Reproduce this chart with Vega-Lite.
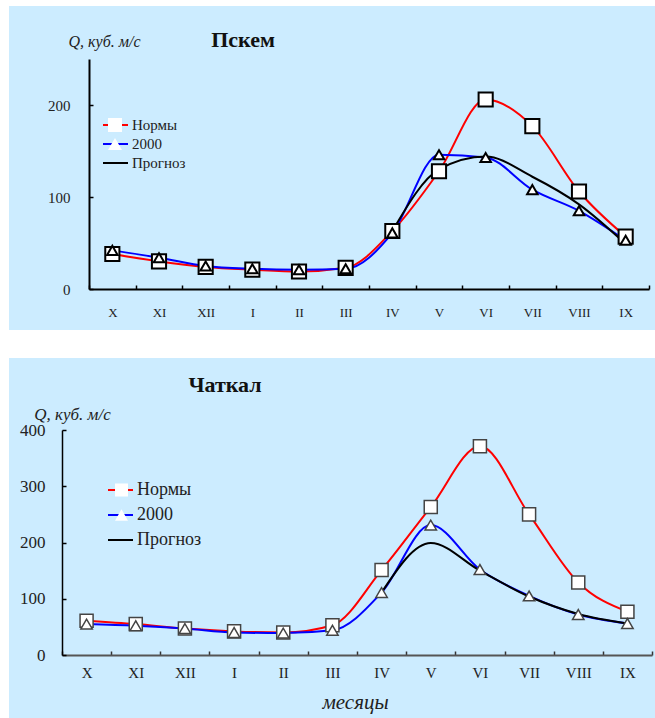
{
  "$schema": "https://vega.github.io/schema/vega-lite/v6.json",
  "background": "white",
  "padding": {"left": 9, "top": 6, "right": 0, "bottom": 0},
  "spacing": 28,
  "resolve": {"scale": {"color": "independent", "shape": "independent"}, "legend": {"color": "independent", "shape": "independent"}},
  "config": {
    "view": {"fill": "#CCECFF", "stroke": null},
    "font": "Liberation Serif",
    "axis": {"grid": false, "labelFont": "Liberation Serif", "titleFont": "Liberation Serif", "labelColor": "#222", "titleColor": "#222", "labelAngle": 0},
    "legend": {"labelFont": "Liberation Serif", "titleFont": "Liberation Serif", "labelColor": "#222"}
  },
  "datasets": {
    "pskem": [
      {"series": "Нормы", "month": "X", "q": 38},
      {"series": "Нормы", "month": "XI", "q": 30},
      {"series": "Нормы", "month": "XII", "q": 24},
      {"series": "Нормы", "month": "I", "q": 21},
      {"series": "Нормы", "month": "II", "q": 19},
      {"series": "Нормы", "month": "III", "q": 23},
      {"series": "Нормы", "month": "IV", "q": 63},
      {"series": "Нормы", "month": "V", "q": 128},
      {"series": "Нормы", "month": "VI", "q": 206},
      {"series": "Нормы", "month": "VII", "q": 177},
      {"series": "Нормы", "month": "VIII", "q": 106},
      {"series": "Нормы", "month": "IX", "q": 57},
      {"series": "2000", "month": "X", "q": 42},
      {"series": "2000", "month": "XI", "q": 34},
      {"series": "2000", "month": "XII", "q": 25},
      {"series": "2000", "month": "I", "q": 22},
      {"series": "2000", "month": "II", "q": 21},
      {"series": "2000", "month": "III", "q": 22},
      {"series": "2000", "month": "IV", "q": 61},
      {"series": "2000", "month": "V", "q": 146},
      {"series": "2000", "month": "VI", "q": 143},
      {"series": "2000", "month": "VII", "q": 108},
      {"series": "2000", "month": "VIII", "q": 85},
      {"series": "2000", "month": "IX", "q": 53},
      {"series": "Прогноз", "month": "IV", "q": 63},
      {"series": "Прогноз", "month": "V", "q": 130},
      {"series": "Прогноз", "month": "VI", "q": 144},
      {"series": "Прогноз", "month": "VII", "q": 122},
      {"series": "Прогноз", "month": "VIII", "q": 92},
      {"series": "Прогноз", "month": "IX", "q": 49}
    ],
    "chatkal": [
      {"series": "Нормы", "month": "X", "q": 61},
      {"series": "Нормы", "month": "XI", "q": 55},
      {"series": "Нормы", "month": "XII", "q": 47},
      {"series": "Нормы", "month": "I", "q": 42},
      {"series": "Нормы", "month": "II", "q": 40},
      {"series": "Нормы", "month": "III", "q": 53},
      {"series": "Нормы", "month": "IV", "q": 151},
      {"series": "Нормы", "month": "V", "q": 263},
      {"series": "Нормы", "month": "VI", "q": 371},
      {"series": "Нормы", "month": "VII", "q": 250},
      {"series": "Нормы", "month": "VIII", "q": 129},
      {"series": "Нормы", "month": "IX", "q": 77},
      {"series": "2000", "month": "X", "q": 55},
      {"series": "2000", "month": "XI", "q": 52},
      {"series": "2000", "month": "XII", "q": 47},
      {"series": "2000", "month": "I", "q": 40},
      {"series": "2000", "month": "II", "q": 39},
      {"series": "2000", "month": "III", "q": 44},
      {"series": "2000", "month": "IV", "q": 111},
      {"series": "2000", "month": "V", "q": 231},
      {"series": "2000", "month": "VI", "q": 152},
      {"series": "2000", "month": "VII", "q": 105},
      {"series": "2000", "month": "VIII", "q": 72},
      {"series": "2000", "month": "IX", "q": 56},
      {"series": "Прогноз", "month": "IV", "q": 111},
      {"series": "Прогноз", "month": "V", "q": 199},
      {"series": "Прогноз", "month": "VI", "q": 150},
      {"series": "Прогноз", "month": "VII", "q": 104},
      {"series": "Прогноз", "month": "VIII", "q": 73},
      {"series": "Прогноз", "month": "IX", "q": 56}
    ]
  },
  "vconcat": [
    {
      "width": 646,
      "height": 324,
      "data": {"name": "pskem"},
      "title": {"text": "Пскем", "anchor": "start", "frame": "group", "dx": 234, "offset": -56, "baseline": "middle", "align": "center", "fontSize": 22, "font": "Liberation Serif", "fontWeight": "bold", "color": "#111"},
      "layer": [
        {
          "mark": {"type": "line", "interpolate": "monotone", "strokeWidth": 2},
          "encoding": {
            "x": {"field": "month", "type": "ordinal", "sort": ["X","XI","XII","I","II","III","IV","V","VI","VII","VIII","IX"],
              "scale": {"type": "band", "range": [80, 640], "paddingInner": 0, "paddingOuter": 0},
              "axis": {"orient": "bottom", "offset": -41, "tickBand": "extent", "tickSize": -4, "tickWidth": 1.5, "tickColor": "#000", "domainColor": "#000", "domainWidth": 2, "labelFontSize": 13, "labelPadding": 21, "title": null}},
            "y": {"field": "q", "type": "quantitative",
              "scale": {"domain": [0, 250], "range": [283, 53], "nice": false, "zero": true},
              "axis": {"orient": "left", "offset": -80, "values": [0, 100, 200], "tickSize": -4, "tickWidth": 1.5, "tickColor": "#000", "domainColor": "#000", "domainWidth": 2, "labelFontSize": 15, "labelPadding": 23,
                "title": "Q, куб. м/с", "titleAngle": 0, "titleX": 15, "titleY": 35, "titleAlign": "center", "titleBaseline": "middle", "titleFontStyle": "italic", "titleFontWeight": "normal", "titleFontSize": 16}},
            "color": {"field": "series", "type": "nominal",
              "scale": {"domain": ["Нормы","2000","Прогноз"], "range": ["#FF0000","#0000FF","#000000"]},
              "legend": {"orient": "none", "legendX": 93, "legendY": 109.5, "title": null, "symbolType": "stroke", "symbolSize": 625, "symbolStrokeWidth": 2, "labelFontSize": 15, "labelFont": "Liberation Serif", "labelColor": "#222", "labelOffset": 3, "clipHeight": 19, "rowPadding": 0, "padding": 0}}
          }
        },
        {
          "transform": [{"filter": "datum.series == 'Нормы'"}],
          "mark": {"type": "point", "filled": false, "fill": "white", "fillOpacity": 1, "stroke": "black", "strokeWidth": 2, "opacity": 1, "size": 200},
          "encoding": {
            "x": {"field": "month", "type": "ordinal", "sort": ["X","XI","XII","I","II","III","IV","V","VI","VII","VIII","IX"]},
            "y": {"field": "q", "type": "quantitative"},
            "shape": {"field": "series", "type": "nominal",
              "scale": {"domain": ["Нормы","2000"], "range": ["square","triangle-up"]},
              "legend": {"orient": "none", "legendX": 98, "legendY": 109.5, "title": null, "symbolSize": 196, "symbolFillColor": "white", "symbolStrokeColor": "black", "symbolStrokeWidth": 2, "symbolOpacity": 1, "labelExpr": "''", "labelFontSize": 15, "labelOffset": 3, "clipHeight": 19, "rowPadding": 0, "padding": 0,
                "encode": {"symbols": {"stroke": {"value": "black"}, "strokeWidth": {"value": 2}, "fill": {"value": "white"}, "fillOpacity": {"value": 1}, "strokeOpacity": {"value": 1}}}}}
          }
        },
        {
          "transform": [{"filter": "datum.series == '2000'"}],
          "mark": {"type": "point", "filled": false, "fill": "white", "fillOpacity": 1, "stroke": "black", "strokeWidth": 2, "opacity": 1, "size": 110},
          "encoding": {
            "x": {"field": "month", "type": "ordinal", "sort": ["X","XI","XII","I","II","III","IV","V","VI","VII","VIII","IX"]},
            "y": {"field": "q", "type": "quantitative"},
            "shape": {"field": "series", "type": "nominal"}
          }
        }
      ]
    },
    {
      "width": 646,
      "height": 360,
      "data": {"name": "chatkal"},
      "title": {"text": "Чаткал", "anchor": "start", "frame": "group", "dx": 216, "offset": -49, "baseline": "middle", "align": "center", "fontSize": 22, "font": "Liberation Serif", "fontWeight": "bold", "color": "#111"},
      "layer": [
        {
          "mark": {"type": "line", "interpolate": "monotone", "strokeWidth": 2},
          "encoding": {
            "x": {"field": "month", "type": "ordinal", "sort": ["X","XI","XII","I","II","III","IV","V","VI","VII","VIII","IX"],
              "scale": {"type": "band", "range": [53, 643], "paddingInner": 0, "paddingOuter": 0},
              "axis": {"orient": "bottom", "offset": -63, "tickBand": "extent", "tickSize": -4, "tickWidth": 1.5, "tickColor": "#333", "domainColor": "#555", "domainWidth": 2, "labelFontSize": 15, "labelPadding": 14,
                "title": "месяцы", "titleX": 346, "titleY": 47, "titleAlign": "center", "titleBaseline": "middle", "titleFontStyle": "italic", "titleFontWeight": "normal", "titleFontSize": 21}},
            "y": {"field": "q", "type": "quantitative",
              "scale": {"domain": [0, 400], "range": [297, 72], "nice": false, "zero": true},
              "axis": {"orient": "left", "offset": -53, "values": [0, 100, 200, 300, 400], "tickSize": -4, "tickWidth": 1.5, "tickColor": "#000", "domainColor": "#000", "domainWidth": 1.5, "labelFontSize": 17, "labelPadding": 21,
                "title": "Q, куб. м/с", "titleAngle": 0, "titleX": 10, "titleY": 56, "titleAlign": "center", "titleBaseline": "middle", "titleFontStyle": "italic", "titleFontWeight": "normal", "titleFontSize": 17}},
            "color": {"field": "series", "type": "nominal",
              "scale": {"domain": ["Нормы","2000","Прогноз"], "range": ["#FF0000","#0000FF","#000000"]},
              "legend": {"orient": "none", "legendX": 98, "legendY": 119.75, "title": null, "symbolType": "stroke", "symbolSize": 625, "symbolStrokeWidth": 2, "labelFontSize": 18, "labelFont": "Liberation Serif", "labelColor": "#222", "labelOffset": 3, "clipHeight": 24.5, "rowPadding": 0, "padding": 0}}
          }
        },
        {
          "transform": [{"filter": "datum.series == 'Нормы'"}],
          "mark": {"type": "point", "filled": false, "fill": "white", "fillOpacity": 1, "stroke": "#444", "strokeWidth": 1.5, "opacity": 1, "size": 170},
          "encoding": {
            "x": {"field": "month", "type": "ordinal", "sort": ["X","XI","XII","I","II","III","IV","V","VI","VII","VIII","IX"]},
            "y": {"field": "q", "type": "quantitative"},
            "shape": {"field": "series", "type": "nominal",
              "scale": {"domain": ["Нормы","2000"], "range": ["square","triangle-up"]},
              "legend": {"orient": "none", "legendX": 103.5, "legendY": 119.75, "title": null, "symbolSize": 169, "symbolFillColor": "white", "symbolStrokeColor": "#444", "symbolStrokeWidth": 1.5, "symbolOpacity": 1, "labelExpr": "''", "labelFontSize": 18, "labelOffset": 3, "clipHeight": 24.5, "rowPadding": 0, "padding": 0,
                "encode": {"symbols": {"stroke": {"value": "#444"}, "strokeWidth": {"value": 1.5}, "fill": {"value": "white"}, "fillOpacity": {"value": 1}, "strokeOpacity": {"value": 1}}}}}
          }
        },
        {
          "transform": [{"filter": "datum.series == '2000'"}],
          "mark": {"type": "point", "filled": false, "fill": "white", "fillOpacity": 1, "stroke": "#444", "strokeWidth": 1.5, "opacity": 1, "size": 130},
          "encoding": {
            "x": {"field": "month", "type": "ordinal", "sort": ["X","XI","XII","I","II","III","IV","V","VI","VII","VIII","IX"]},
            "y": {"field": "q", "type": "quantitative"},
            "shape": {"field": "series", "type": "nominal"}
          }
        }
      ]
    }
  ]
}
